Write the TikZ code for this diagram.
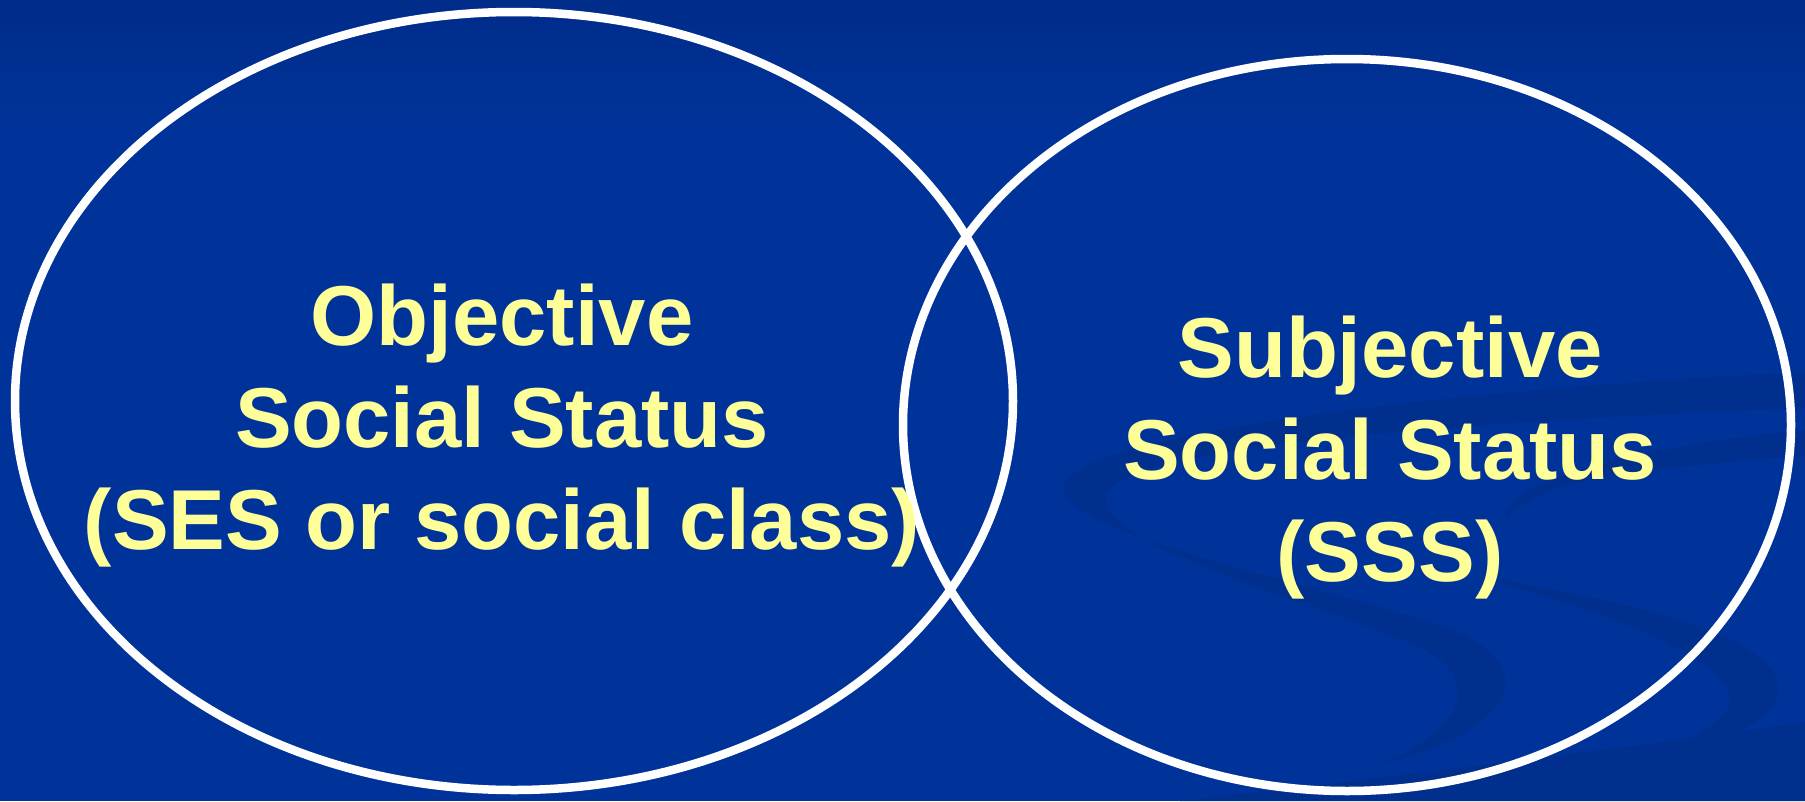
\documentclass[tikz,border=0pt]{standalone}
\usepackage{fontspec}
\setmainfont{Liberation Sans}
\usetikzlibrary{shapes.geometric}
\definecolor{bgblue}{HTML}{003399}
\definecolor{topblue}{HTML}{002C8A}
\definecolor{swoosh}{HTML}{002F8E}
\definecolor{txtyellow}{HTML}{FFFF99}
\tikzset{
  ring/.style={ellipse, draw=white, line width=8.5pt, inner sep=0pt},
  label/.style={text=txtyellow, align=center, inner sep=0pt,
    font=\fontsize{85}{102}\selectfont\bfseries},
  band/.style={fill=swoosh, draw=none}
}
\begin{document}
\begin{tikzpicture}[x=1pt,y=-1pt]
\useasboundingbox (0,0) rectangle (1805,801);
% background
\fill[bgblue] (0,0) rectangle (1805,801);
\shade[top color=topblue, bottom color=bgblue, draw=none] (0,0) rectangle (1805,130);
% background swooshes
\path[band] (1805,372) .. controls (1400,392) and (1055,440) .. (1063,490)
  .. controls (1072,535) and (1300,580) .. (1440,625)
  .. controls (1540,660) and (1530,725) .. (1380,765)
  .. controls (1480,720) and (1475,672) .. (1415,645)
  .. controls (1300,598) and (1100,545) .. (1106,497)
  .. controls (1112,445) and (1500,420) .. (1805,408) -- cycle;
\path[band] (1470,575) .. controls (1600,595) and (1760,630) .. (1777,680)
  .. controls (1790,720) and (1720,745) .. (1620,765)
  .. controls (1700,740) and (1740,715) .. (1728,690)
  .. controls (1710,650) and (1600,610) .. (1470,575) -- cycle;
\path[band] (1805,722) -- (1805,801) -- (1180,801)
  .. controls (1450,770) and (1650,745) .. (1805,722) -- cycle;
\path[band] (1805,455) .. controls (1650,470) and (1540,475) .. (1505,520)
  .. controls (1500,480) and (1650,445) .. (1805,430) -- cycle;
% rings
\node[ring, minimum width=998pt, minimum height=778pt] (obj) at (514,401) {};
\node[ring, minimum width=888pt, minimum height=732pt] (subj) at (1347,425) {};
% labels
\node[label] (objtxt) at (502,426) {Objective\\Social Status\\(SES or social class)};
\node[label] (subjtxt) at (1390,458) {Subjective\\Social Status\\(SSS)};
\end{tikzpicture}
\end{document}
